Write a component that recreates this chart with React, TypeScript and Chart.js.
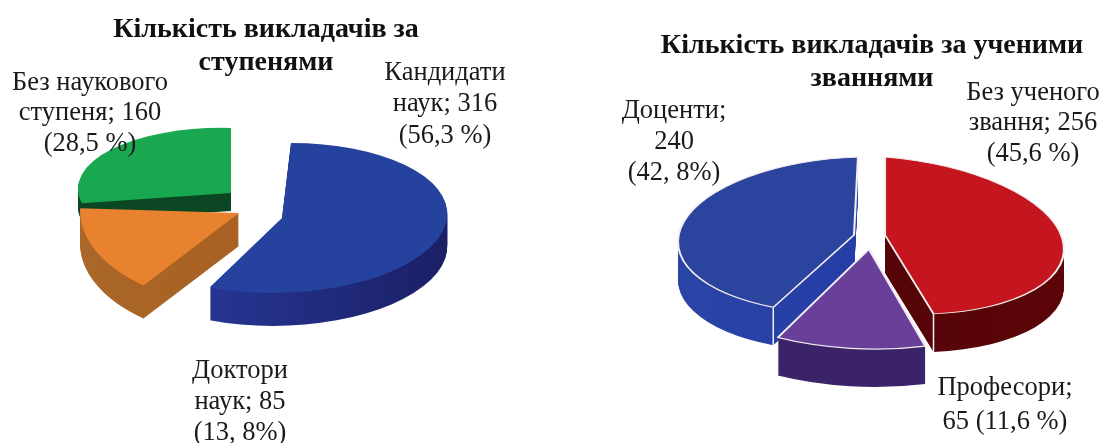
import React, { useEffect, useRef } from "react";
import { Chart, registerables } from "chart.js";

Chart.register(...registerables);

const serif = "'Liberation Serif', 'Times New Roman', serif";

// ---- data: chart 1 (degrees)
const degreeTitle = ["Кількість викладачів за", "ступенями"];
const degreeCategories = ["Кандидати наук", "Доктори наук", "Без наукового ступеня"];
const degreeValues = [316, 85, 160];
const degreeLabels = [
  ["Кандидати", "наук; 316", "(56,3 %)"],
  ["Доктори", "наук; 85", "(13, 8%)"],
  ["Без наукового", "ступеня; 160", "(28,5 %)"],
];

// ---- data: chart 2 (academic ranks)
const rankTitle = ["Кількість викладачів за ученими", "званнями"];
const rankCategories = ["Без ученого звання", "Професори", "Доценти"];
const rankValues = [256, 65, 240];
const rankLabels = [
  ["Без ученого", "звання; 256", "(45,6 %)"],
  ["Професори;", "65 (11,6 %)"],
  ["Доценти;", "240", "(42, 8%)"],
];

type Pose = {
  a: number; b: number; c: number; d: number; e: number; f: number;
  depth: number; top: string; wall: [string, string]; seam?: "start" | "end";
};
type Spec = {
  left: number; width: number; paddingLeft: number; titleTop: number;
  title: string[]; categories: string[]; values: number[];
  labels: string[][]; labelPos: number[][]; lineGap: number[];
  poses: Pose[]; order: number[]; edge: number;
};

// tilt of each exploded slice as seen on the 3-D disc (canvas-local)
const specs: Spec[] = [
  {
    left: 0, width: 532, paddingLeft: 0, titleTop: 14,
    title: degreeTitle, categories: degreeCategories, values: degreeValues,
    labels: degreeLabels,
    labelPos: [[445, 73], [240, 371], [90, 83]], lineGap: [31.5, 31, 30.5],
    poses: [
      { a: 165, b: 0, c: -9, d: 75, e: 282, f: 218, depth: 33, top: "#25429e", wall: ["#2c3fa6", "#1b2066"] },
      { a: 154, b: 25, c: -39, d: 89, e: 239, f: 213, depth: 33, top: "#e8822f", wall: ["#a9682a", "#a85a1c"] },
      { a: 153, b: 4, c: 0, d: 65, e: 231, f: 193, depth: 18, top: "#19a850", wall: ["#0a4722", "#0a4722"] },
    ],
    order: [2, 1, 0], edge: 0,
  },
  {
    left: 532, width: 570, paddingLeft: 110, titleTop: 30,
    title: rankTitle, categories: rankCategories, values: rankValues,
    labels: rankLabels,
    labelPos: [[501, 93], [473, 388], [142, 111]], lineGap: [30.5, 34, 31],
    poses: [
      { a: 179, b: 14, c: 0, d: 78, e: 353, f: 235, depth: 38, top: "#c5161f", wall: ["#4e0408", "#5c0508"], seam: "end" },
      { a: 208, b: 3, c: 0, d: 100, e: 337, f: 249, depth: 38, top: "#6a3f9a", wall: ["#3b2369", "#3b2369"] },
      { a: 176, b: -5, c: -4, d: 78, e: 322, f: 235, depth: 38, top: "#2b459f", wall: ["#2a44a6", "#2038a8"], seam: "start" },
    ],
    order: [2, 0, 1], edge: 1.2,
  },
];

function disc3dPlugin(spec: Spec) {
  return {
    id: "disc3d",
    beforeDatasetsDraw(chart: any) {
      const ctx: CanvasRenderingContext2D = chart.ctx;
      const arcs = chart.getDatasetMeta(0).data;
      const base = arcs.map((el: any) => el.options);
      spec.order.forEach((i) => {
        const el = arcs[i];
        const p = spec.poses[i];
        const R = el.outerRadius;
        const place = (dy: number) => {
          ctx.translate(p.e, p.f + dy);
          ctx.transform(p.a / R, p.b / R, p.c / R, p.d / R, 0, 0);
          ctx.translate(-el.x, -el.y);
        };
        const grad = ctx.createLinearGradient(el.x - R, 0, el.x + R, 0);
        grad.addColorStop(0, p.wall[0]);
        grad.addColorStop(1, p.wall[1]);
        el.options = { ...base[i], backgroundColor: grad, borderWidth: 0 };
        for (let d = p.depth; d >= 1; d--) {
          ctx.save();
          place(d);
          el.draw(ctx);
          ctx.restore();
        }
        el.options = base[i];
        ctx.save();
        place(0);
        el.draw(ctx);
        ctx.restore();
        if (p.seam) {
          const ang = p.seam === "start" ? el.startAngle : el.endAngle;
          const dx = Math.cos(ang);
          const dy = Math.sin(ang);
          const x = p.e + p.a * dx + p.c * dy;
          const y = p.f + p.b * dx + p.d * dy;
          ctx.save();
          ctx.strokeStyle = "#eef0f4";
          ctx.lineWidth = 1.5;
          ctx.beginPath();
          ctx.moveTo(x, y);
          ctx.lineTo(x, y + p.depth);
          ctx.stroke();
          ctx.restore();
        }
      });
      return false;
    },
  };
}

function calloutPlugin(spec: Spec) {
  return {
    id: "callouts",
    afterDraw(chart: any) {
      const ctx: CanvasRenderingContext2D = chart.ctx;
      ctx.save();
      ctx.font = `26.5px ${serif}`;
      ctx.fillStyle = "#1a1a1a";
      ctx.textAlign = "center";
      ctx.textBaseline = "middle";
      spec.labels.forEach((lines, i) => {
        const [x, y] = spec.labelPos[i];
        lines.forEach((line, j) => ctx.fillText(line, x, y + j * spec.lineGap[i]));
      });
      ctx.restore();
    },
  };
}

function Pie3D({ spec }: { spec: Spec }) {
  const ref = useRef<HTMLCanvasElement>(null);
  useEffect(() => {
    const chart = new Chart(ref.current as HTMLCanvasElement, {
      type: "pie",
      data: {
        labels: spec.categories,
        datasets: [
          {
            data: spec.values,
            backgroundColor: spec.poses.map((p) => p.top),
            borderColor: "#f3eef0",
            borderWidth: spec.edge,
          },
        ],
      },
      options: {
        animation: false,
        responsive: false,
        radius: 100,
        layout: { padding: { left: spec.paddingLeft } },
        plugins: {
          legend: { display: false },
          tooltip: { enabled: false },
          title: {
            display: true,
            text: spec.title,
            fullSize: false,
            color: "#111111",
            font: { family: serif, size: 28, weight: "bold", lineHeight: 1.15 },
            padding: { top: spec.titleTop, bottom: 0 },
          },
        },
      } as any,
      plugins: [disc3dPlugin(spec), calloutPlugin(spec)] as any,
    });
    return () => chart.destroy();
  }, [spec]);
  return (
    <canvas
      ref={ref}
      width={spec.width}
      height={443}
      style={{ position: "absolute", left: spec.left, top: 0, width: spec.width, height: 443 }}
    />
  );
}

export default function App() {
  return (
    <div style={{ position: "absolute", left: 0, top: 0, width: 1102, height: 443, background: "#ffffff", overflow: "hidden" }}>
      {specs.map((s, i) => (
        <Pie3D key={i} spec={s} />
      ))}
    </div>
  );
}
